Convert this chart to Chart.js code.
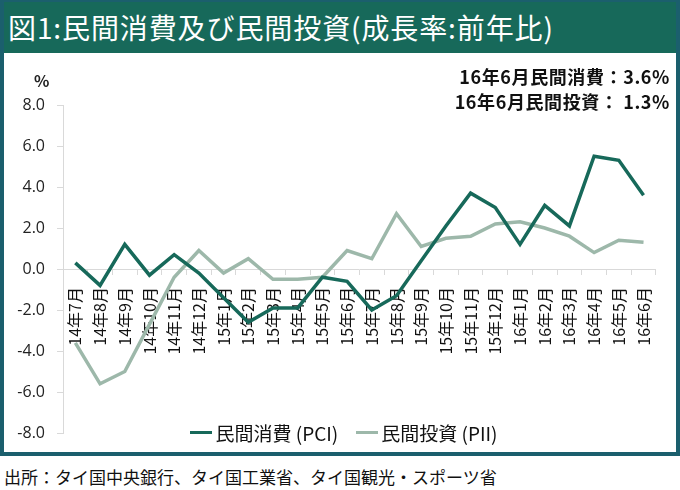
<!DOCTYPE html>
<html lang="ja">
<head>
<meta charset="utf-8">
<script src="https://cdn.jsdelivr.net/npm/chart.js@4.4.1/dist/chart.umd.min.js"></script>
<style>
    body { margin: 0; width: 680px; height: 490px; background: #fff; position: relative; overflow: hidden;
           font-family: 'Noto Sans CJK JP', 'Noto Sans', sans-serif; }
    .frame { position: absolute; left: 0; top: 0; width: 680px; height: 456px; box-sizing: border-box;
             border: 4px solid #1b5f6d; border-top-width: 2px; }
    .title { position: absolute; left: 0; top: 0; width: 672px; height: 51px; background: #17695a; color: #fff;
             font-size: 28px; line-height: 50px; padding-left: 4px; box-sizing: border-box; white-space: nowrap;
             letter-spacing: 0.9px; }
    .chart-box { position: absolute; left: 4px; top: 53px; width: 672px; height: 399px; }
    .note { position: absolute; right: 10px; top: 64px; text-align: right; font-size: 18px; font-weight: bold;
            line-height: 25px; color: #111; white-space: pre; letter-spacing: 0.6px; }
    .unit { position: absolute; left: 34px; top: 68px; font-size: 16px; font-weight: bold; color: #222; }
    .legend { position: absolute; left: 7px; width: 674px; top: 419px; display: flex; justify-content: center;
              gap: 18px; font-size: 19px; color: #111; }
    .legend-item { display: flex; align-items: center; }
    .legend-line { display: inline-block; width: 22px; height: 3px; margin-right: 3px; }
    .source { position: absolute; left: 4px; top: 464px; font-size: 17px; color: #111; white-space: nowrap; }
</style>
</head>
<body>
<div class="frame">
    <div class="title">図1:民間消費及び民間投資(成長率:前年比)</div>
</div>
<div class="chart-box"><canvas id="mainChart" width="672" height="399"></canvas></div>
<div class="unit">%</div>
<div class="note">16年6月民間消費：3.6%
16年6月民間投資： 1.3%</div>
<div class="legend" id="mainLegend"></div>
<div class="source">出所：タイ国中央銀行、タイ国工業省、タイ国観光・スポーツ省</div>

<script>
// ─── Data ───────────────────────────────────────────────
const MONTHS = [
    '14年7月', '14年8月', '14年9月', '14年10月', '14年11月', '14年12月',
    '15年1月', '15年2月', '15年3月', '15年4月', '15年5月', '15年6月',
    '15年7月', '15年8月', '15年9月', '15年10月', '15年11月', '15年12月',
    '16年1月', '16年2月', '16年3月', '16年4月', '16年5月', '16年6月'
];

// 民間消費 (PCI)
const PCI = [0.3, -0.8, 1.2, -0.3, 0.7, -0.2, -1.4, -2.6, -1.9, -1.9, -0.4, -0.6,
             -2.0, -1.3, 0.4, 2.1, 3.7, 3.0, 1.2, 3.1, 2.1, 5.5, 5.3, 3.6];

// 民間投資 (PII)
const PII = [-3.6, -5.6, -5.0, -2.7, -0.4, 0.9, -0.2, 0.5, -0.5, -0.5, -0.4, 0.9,
             0.5, 2.7, 1.1, 1.5, 1.6, 2.2, 2.3, 2.0, 1.6, 0.8, 1.4, 1.3];

const Y_TICKS = [-8, -6, -4, -2, 0, 2, 4, 6, 8];

const COLORS = {
    pci: '#17695a',
    pii: '#9db8aa',
    axis: '#d9d9d9',
    text: '#222'
};

Chart.defaults.font.family = "'Noto Sans CJK JP', 'Noto Sans', sans-serif";
Chart.defaults.color = COLORS.text;

// ─── Chart ──────────────────────────────────────────────
const mainChart = new Chart(document.getElementById('mainChart'), {
    type: 'line',
    data: {
        labels: MONTHS,
        datasets: [
            {
                label: '民間消費 (PCI)',
                data: PCI,
                borderColor: COLORS.pci,
                backgroundColor: COLORS.pci,
                borderWidth: 3.5,
                pointRadius: 0,
                tension: 0
            },
            {
                label: '民間投資 (PII)',
                data: PII,
                borderColor: COLORS.pii,
                backgroundColor: COLORS.pii,
                borderWidth: 3.5,
                pointRadius: 0,
                tension: 0
            }
        ]
    },
    options: {
        responsive: false,
        animation: false,
        layout: {
            padding: { left: 0, right: 13, top: 52, bottom: 19 }
        },
        plugins: {
            legend: { display: false },
            tooltip: { enabled: false }
        },
        scales: {
            x: {
                position: { y: 0 },
                offset: true,
                grid: {
                    offset: true,
                    drawOnChartArea: false,
                    tickLength: 5,
                    color: COLORS.axis
                },
                border: { color: COLORS.axis, width: 1 },
                ticks: {
                    autoSkip: false,
                    minRotation: 90,
                    maxRotation: 90,
                    padding: 13,
                    color: '#111',
                    font: { size: 16 }
                }
            },
            y: {
                min: -8,
                max: 8,
                afterBuildTicks: function(scale) {
                    scale.ticks = Y_TICKS.map(v => ({ value: v }));
                },
                afterFit: function(scale) {
                    // fixed axis width, let layout padding set the plot height
                    scale.width = 59;
                    scale.paddingTop = 0;
                    scale.paddingBottom = 0;
                },
                grid: {
                    drawOnChartArea: false,
                    tickLength: 6,
                    color: COLORS.axis
                },
                border: { color: COLORS.axis, width: 1 },
                ticks: {
                    padding: 12,
                    color: '#222',
                    font: { family: "'Open Sans', sans-serif", size: 16 },
                    callback: function(value) {
                        return Number(value).toFixed(1);
                    }
                }
            }
        }
    }
});

// ─── Legend ─────────────────────────────────────────────
function updateLegend(chart) {
    const legendEl = document.getElementById('mainLegend');
    legendEl.innerHTML = chart.data.datasets.map(ds => `
        <div class="legend-item">
            <span class="legend-line" style="background:${ds.borderColor}"></span>
            <span>${ds.label}</span>
        </div>
    `).join('');
}

updateLegend(mainChart);
</script>
</body>
</html>
